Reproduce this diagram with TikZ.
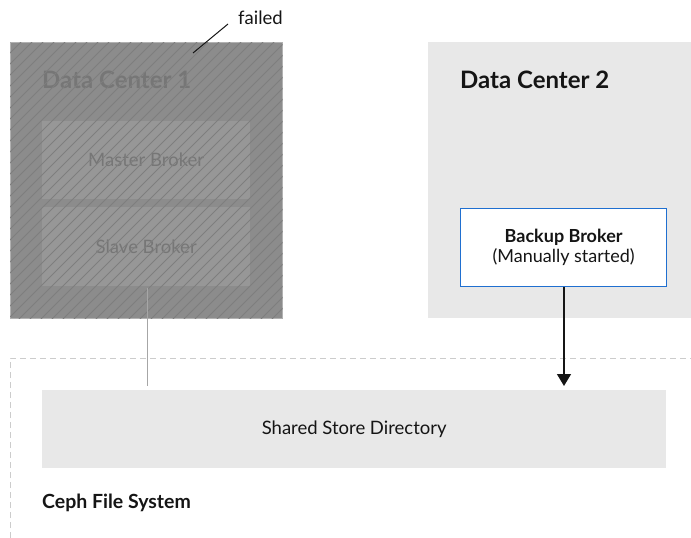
\documentclass[tikz,border=0pt]{standalone}
\usepackage{fontspec}
\setmainfont{Lato}
\usetikzlibrary{arrows.meta}
\definecolor{dcone}{HTML}{8C8C8C}
\definecolor{hatch}{HTML}{7E7E7E}
\definecolor{innerone}{HTML}{979797}
\definecolor{txtone}{HTML}{767676}
\definecolor{lightbg}{HTML}{E8E8E8}
\definecolor{bluebd}{HTML}{1F6FD0}
\definecolor{txt}{HTML}{151515}
\tikzset{
  box/.style={draw=none, minimum width=#1, inner sep=0pt, anchor=north west},
  lbl/.style={font=\fontsize{18.5}{21}\selectfont, text=txt},
  title/.style={font=\bfseries\fontsize{24}{26}\selectfont, anchor=west, inner sep=0pt},
}
\begin{document}
\begin{tikzpicture}[x=1pt,y=-1pt]
\useasboundingbox (0,0) rectangle (691,538);
% Ceph dashed region
\draw[gray!40, dashed, dash pattern=on 6pt off 4pt] (10,538) -- (10,358) -- (691,358);
% DC1
\node[box=272pt, minimum height=276pt, fill=dcone, draw=gray!60, line width=0.6pt] (dc1) at (10,42) {};
\node[box=208pt, minimum height=78pt, fill=innerone] (master) at (42,121) {};
\node[box=208pt, minimum height=79pt, fill=innerone] (slave) at (42,207) {};
\node[title, text=txtone] (dc1t) at (42,80) {Data Center 1};
\node[lbl, text=txtone] at (master.center) {Master Broker};
\node[lbl, text=txtone] at (slave.center) {Slave Broker};
\begin{scope}
\clip (dc1.north west) rectangle (dc1.south east);
\foreach \i in {-300,-289,...,300}
  \draw[hatch, line width=1pt] (\i,330) -- ++(300,-300);
\end{scope}
% failed label
\node[lbl, anchor=west, inner sep=0pt] (failed) at (238,18) {failed};
\coordinate (fa) at (228,24);
\coordinate (fb) at (193,53);
\draw[txt, line width=1pt] (fa) -- (fb);
% DC2
\node[box=263pt, minimum height=276pt, fill=lightbg] (dc2) at (428,42) {};
\node[title, text=txt] (dc2t) at (460,80) {Data Center 2};
\node[box=206pt, minimum height=78pt, fill=white, draw=bluebd, line width=1.2pt] (backup) at (460,208) {};
\node[lbl, align=center, font=\fontsize{18}{20}\selectfont] at (backup.center) {\textbf{Backup Broker}\\(Manually started)};
% Shared store
\node[box=624pt, minimum height=78pt, fill=lightbg] (store) at (42,390) {};
\node[lbl] at (store.center) {Shared Store Directory};
\node[font=\bfseries\fontsize{19.5}{21}\selectfont, anchor=west, inner sep=0pt, text=txt] (ceph) at (42,503) {Ceph File System};
% connectors
\coordinate (slavebot) at (147,288);
\coordinate (storetopl) at (147,386);
\draw[gray!70, line width=1pt] (slavebot) -- (storetopl);
\draw[txt, line width=1.3pt, -{Triangle[length=12pt,width=14pt]}] (backup.south -| 564,0) -- (564,386);
\end{tikzpicture}
\end{document}
